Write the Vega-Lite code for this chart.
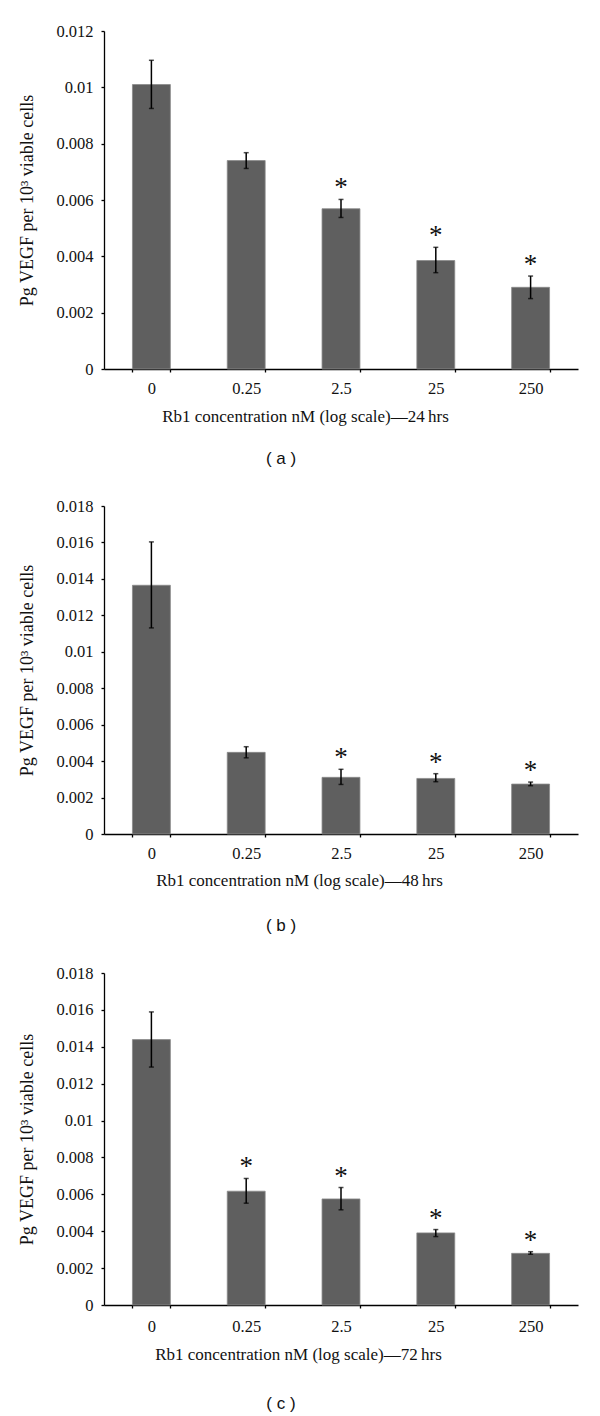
{
  "$schema": "https://vega.github.io/schema/vega-lite/v6.json",
  "padding": {"top": 23, "left": 18, "right": 5, "bottom": 2},
  "background": "white",
  "datasets": {
    "a": [
      {"conc": "0", "value": 0.0101, "lo": 0.00925, "hi": 0.01096, "sig": ""},
      {"conc": "0.25", "value": 0.0074, "lo": 0.00712, "hi": 0.00768, "sig": ""},
      {"conc": "2.5", "value": 0.00569, "lo": 0.00538, "hi": 0.00602, "sig": "*"},
      {"conc": "25", "value": 0.00385, "lo": 0.00342, "hi": 0.00432, "sig": "*"},
      {"conc": "250", "value": 0.0029, "lo": 0.0025, "hi": 0.0033, "sig": "*"}
    ],
    "b": [
      {"conc": "0", "value": 0.01365, "lo": 0.01131, "hi": 0.01603, "sig": ""},
      {"conc": "0.25", "value": 0.00448, "lo": 0.00418, "hi": 0.00479, "sig": ""},
      {"conc": "2.5", "value": 0.00311, "lo": 0.00272, "hi": 0.00355, "sig": "*"},
      {"conc": "25", "value": 0.00305, "lo": 0.00287, "hi": 0.00331, "sig": "*"},
      {"conc": "250", "value": 0.00274, "lo": 0.00265, "hi": 0.00285, "sig": "*"}
    ],
    "c": [
      {"conc": "0", "value": 0.01439, "lo": 0.0129, "hi": 0.01589, "sig": ""},
      {"conc": "0.25", "value": 0.00617, "lo": 0.00552, "hi": 0.00686, "sig": "*"},
      {"conc": "2.5", "value": 0.00575, "lo": 0.00516, "hi": 0.00637, "sig": "*"},
      {"conc": "25", "value": 0.00391, "lo": 0.00371, "hi": 0.00409, "sig": "*"},
      {"conc": "250", "value": 0.0028, "lo": 0.00275, "hi": 0.00289, "sig": "*"}
    ]
  },
  "config": {
    "view": {"stroke": null},
    "concat": {"spacing": 31},
    "axis": {
      "labelFont": "Liberation Serif",
      "titleFont": "Liberation Serif",
      "labelFontSize": 16.5,
      "titleFontSize": 17,
      "titleFontWeight": "normal",
      "labelColor": "#111",
      "titleColor": "#111",
      "domainColor": "#000",
      "tickColor": "#000",
      "domainWidth": 1.3,
      "tickWidth": 1.3,
      "labelOverlap": false,
      "grid": false
    },
    "axisY": {"titleFontSize": 18},
    "title": {
      "font": "Liberation Sans",
      "fontSize": 17,
      "fontWeight": "normal",
      "color": "#111",
      "orient": "bottom",
      "anchor": "middle",
      "frame": "group",
      "dx": -60,
      "offset": 27
    }
  },
  "vconcat": [
    {
      "width": 474,
      "height": 338,
      "data": {"name": "a"},
      "title": {"text": "( a )", "offset": 27},
      "encoding": {
        "x": {
          "field": "conc", "type": "nominal", "sort": null,
          "scale": {"paddingInner": 0.6, "paddingOuter": 0.3},
          "axis": {"title": "Rb1 concentration nM (log scale)\u201424\u2009hrs", "labelAngle": 0, "tickSize": 3, "labelPadding": 8, "tickBand": "extent", "titleX": 201, "titleY": 39, "titleBaseline": "top"}
        }
      },
      "layer": [
        {
          "mark": {"type": "bar", "color": "#5f5f5f", "stroke": "#8a8a8a", "strokeWidth": 0.8},
          "encoding": {
            "y": {"field": "value", "type": "quantitative",
              "scale": {"domain": [0, 0.012], "nice": false},
              "axis": {"title": "Pg VEGF per 10\u00b3 viable cells", "values": [0, 0.002, 0.004, 0.006, 0.008, 0.01, 0.012], "format": "~g", "tickSize": 3, "labelPadding": 8, "titlePadding": 19, "labelOverlap": false}}
          }
        },
        {"mark": {"type": "rule", "color": "#000", "strokeWidth": 1.5}, "encoding": {"y": {"field": "lo", "type": "quantitative", "axis": {"title": "Pg VEGF per 10\u00b3 viable cells", "values": [0, 0.002, 0.004, 0.006, 0.008, 0.01, 0.012], "format": "~g", "tickSize": 3, "labelPadding": 8, "titlePadding": 19, "labelOverlap": false}}, "y2": {"field": "hi"}}},
        {"mark": {"type": "tick", "orient": "horizontal", "color": "#000", "size": 5, "thickness": 1.5}, "encoding": {"y": {"field": "lo", "type": "quantitative", "axis": {"title": "Pg VEGF per 10\u00b3 viable cells", "values": [0, 0.002, 0.004, 0.006, 0.008, 0.01, 0.012], "format": "~g", "tickSize": 3, "labelPadding": 8, "titlePadding": 19, "labelOverlap": false}}}},
        {"mark": {"type": "tick", "orient": "horizontal", "color": "#000", "size": 5, "thickness": 1.5}, "encoding": {"y": {"field": "hi", "type": "quantitative", "axis": {"title": "Pg VEGF per 10\u00b3 viable cells", "values": [0, 0.002, 0.004, 0.006, 0.008, 0.01, 0.012], "format": "~g", "tickSize": 3, "labelPadding": 8, "titlePadding": 19, "labelOverlap": false}}}},
        {"mark": {"type": "text", "font": "Liberation Serif", "fontSize": 27, "baseline": "alphabetic", "dy": -3, "color": "#111"}, "encoding": {"y": {"field": "hi", "type": "quantitative", "axis": {"title": "Pg VEGF per 10\u00b3 viable cells", "values": [0, 0.002, 0.004, 0.006, 0.008, 0.01, 0.012], "format": "~g", "tickSize": 3, "labelPadding": 8, "titlePadding": 19, "labelOverlap": false}}, "text": {"field": "sig"}}}
      ]
    },
    {
      "width": 474,
      "height": 328,
      "data": {"name": "b"},
      "title": {"text": "( b )", "offset": 30},
      "encoding": {
        "x": {
          "field": "conc", "type": "nominal", "sort": null,
          "scale": {"paddingInner": 0.6, "paddingOuter": 0.3},
          "axis": {"title": "Rb1 concentration nM (log scale)\u201448\u2009hrs", "labelAngle": 0, "tickSize": 3, "labelPadding": 8, "tickBand": "extent", "titleX": 195, "titleY": 38, "titleBaseline": "top"}
        }
      },
      "layer": [
        {
          "mark": {"type": "bar", "color": "#5f5f5f", "stroke": "#8a8a8a", "strokeWidth": 0.8},
          "encoding": {
            "y": {"field": "value", "type": "quantitative",
              "scale": {"domain": [0, 0.018], "nice": false},
              "axis": {"title": "Pg VEGF per 10\u00b3 viable cells", "values": [0, 0.002, 0.004, 0.006, 0.008, 0.01, 0.012, 0.014, 0.016, 0.018], "format": "~g", "tickSize": 3, "labelPadding": 8, "titlePadding": 19, "labelOverlap": false}}
          }
        },
        {"mark": {"type": "rule", "color": "#000", "strokeWidth": 1.5}, "encoding": {"y": {"field": "lo", "type": "quantitative", "axis": {"title": "Pg VEGF per 10\u00b3 viable cells", "values": [0, 0.002, 0.004, 0.006, 0.008, 0.01, 0.012, 0.014, 0.016, 0.018], "format": "~g", "tickSize": 3, "labelPadding": 8, "titlePadding": 19, "labelOverlap": false}}, "y2": {"field": "hi"}}},
        {"mark": {"type": "tick", "orient": "horizontal", "color": "#000", "size": 5, "thickness": 1.5}, "encoding": {"y": {"field": "lo", "type": "quantitative", "axis": {"title": "Pg VEGF per 10\u00b3 viable cells", "values": [0, 0.002, 0.004, 0.006, 0.008, 0.01, 0.012, 0.014, 0.016, 0.018], "format": "~g", "tickSize": 3, "labelPadding": 8, "titlePadding": 19, "labelOverlap": false}}}},
        {"mark": {"type": "tick", "orient": "horizontal", "color": "#000", "size": 5, "thickness": 1.5}, "encoding": {"y": {"field": "hi", "type": "quantitative", "axis": {"title": "Pg VEGF per 10\u00b3 viable cells", "values": [0, 0.002, 0.004, 0.006, 0.008, 0.01, 0.012, 0.014, 0.016, 0.018], "format": "~g", "tickSize": 3, "labelPadding": 8, "titlePadding": 19, "labelOverlap": false}}}},
        {"mark": {"type": "text", "font": "Liberation Serif", "fontSize": 27, "baseline": "alphabetic", "dy": -3, "color": "#111"}, "encoding": {"y": {"field": "hi", "type": "quantitative", "axis": {"title": "Pg VEGF per 10\u00b3 viable cells", "values": [0, 0.002, 0.004, 0.006, 0.008, 0.01, 0.012, 0.014, 0.016, 0.018], "format": "~g", "tickSize": 3, "labelPadding": 8, "titlePadding": 19, "labelOverlap": false}}, "text": {"field": "sig"}}}
      ]
    },
    {
      "width": 474,
      "height": 332,
      "data": {"name": "c"},
      "title": {"text": "( c )", "offset": 34},
      "encoding": {
        "x": {
          "field": "conc", "type": "nominal", "sort": null,
          "scale": {"paddingInner": 0.6, "paddingOuter": 0.3},
          "axis": {"title": "Rb1 concentration nM (log scale)\u201472\u2009hrs", "labelAngle": 0, "tickSize": 3, "labelPadding": 10, "tickBand": "extent", "titleX": 194, "titleY": 41, "titleBaseline": "top"}
        }
      },
      "layer": [
        {
          "mark": {"type": "bar", "color": "#5f5f5f", "stroke": "#8a8a8a", "strokeWidth": 0.8},
          "encoding": {
            "y": {"field": "value", "type": "quantitative",
              "scale": {"domain": [0, 0.018], "nice": false},
              "axis": {"title": "Pg VEGF per 10\u00b3 viable cells", "values": [0, 0.002, 0.004, 0.006, 0.008, 0.01, 0.012, 0.014, 0.016, 0.018], "format": "~g", "tickSize": 3, "labelPadding": 8, "titlePadding": 19, "labelOverlap": false}}
          }
        },
        {"mark": {"type": "rule", "color": "#000", "strokeWidth": 1.5}, "encoding": {"y": {"field": "lo", "type": "quantitative", "axis": {"title": "Pg VEGF per 10\u00b3 viable cells", "values": [0, 0.002, 0.004, 0.006, 0.008, 0.01, 0.012, 0.014, 0.016, 0.018], "format": "~g", "tickSize": 3, "labelPadding": 8, "titlePadding": 19, "labelOverlap": false}}, "y2": {"field": "hi"}}},
        {"mark": {"type": "tick", "orient": "horizontal", "color": "#000", "size": 5, "thickness": 1.5}, "encoding": {"y": {"field": "lo", "type": "quantitative", "axis": {"title": "Pg VEGF per 10\u00b3 viable cells", "values": [0, 0.002, 0.004, 0.006, 0.008, 0.01, 0.012, 0.014, 0.016, 0.018], "format": "~g", "tickSize": 3, "labelPadding": 8, "titlePadding": 19, "labelOverlap": false}}}},
        {"mark": {"type": "tick", "orient": "horizontal", "color": "#000", "size": 5, "thickness": 1.5}, "encoding": {"y": {"field": "hi", "type": "quantitative", "axis": {"title": "Pg VEGF per 10\u00b3 viable cells", "values": [0, 0.002, 0.004, 0.006, 0.008, 0.01, 0.012, 0.014, 0.016, 0.018], "format": "~g", "tickSize": 3, "labelPadding": 8, "titlePadding": 19, "labelOverlap": false}}}},
        {"mark": {"type": "text", "font": "Liberation Serif", "fontSize": 27, "baseline": "alphabetic", "dy": -3, "color": "#111"}, "encoding": {"y": {"field": "hi", "type": "quantitative", "axis": {"title": "Pg VEGF per 10\u00b3 viable cells", "values": [0, 0.002, 0.004, 0.006, 0.008, 0.01, 0.012, 0.014, 0.016, 0.018], "format": "~g", "tickSize": 3, "labelPadding": 8, "titlePadding": 19, "labelOverlap": false}}, "text": {"field": "sig"}}}
      ]
    }
  ]
}
